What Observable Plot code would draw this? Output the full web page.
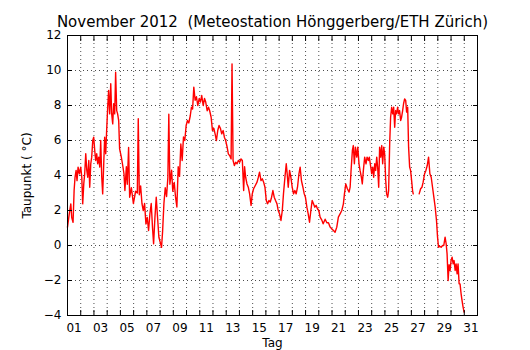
<!DOCTYPE html>
<html>
<head>
<meta charset="utf-8">
<script src="https://cdn.jsdelivr.net/npm/d3@7"></script>
<script src="https://cdn.jsdelivr.net/npm/@observablehq/plot@0.6"></script>
<style>
  html, body { margin: 0; padding: 0; background: #fff; }
  svg { display: block; }
</style>
</head>
<body>
<div id="chart"></div>
<script>
const titleText = "November 2012  (Meteostation Hönggerberg/ETH Zürich)";
const yLabel = "Taupunkt ( °C)";
const xLabel = "Tag";

// time in days (1 = 1 Nov 00:00), dew point in °C
const times = [
  1.00,1.10,1.17,1.25,1.32,1.42,1.50,1.57,1.65,1.72,1.80,1.90,
  2.00,2.08,2.15,2.23,2.30,2.38,2.46,2.53,2.61,2.68,2.76,2.83,2.91,2.98,
  3.06,3.13,3.21,3.28,3.36,3.44,3.51,3.59,3.66,3.74,3.81,3.89,3.96,
  4.04,4.11,4.19,4.27,4.34,4.42,4.49,4.57,4.64,4.72,4.79,4.87,4.94,
  5.02,5.07,5.17,5.27,5.34,5.45,5.52,5.62,5.70,5.83,5.98,
  6.15,6.28,6.35,6.43,6.53,6.63,6.73,6.83,6.93,
  7.03,7.13,7.23,7.33,7.43,7.51,7.61,7.71,7.81,7.91,
  8.04,8.11,8.19,8.29,8.39,8.49,8.59,8.66,8.74,8.87,8.96,
  9.07,9.17,9.27,9.37,9.47,9.57,9.67,9.77,9.87,9.97,
  10.07,10.17,10.28,10.37,10.46,10.55,10.65,10.75,10.85,10.96,
  11.05,11.15,11.26,11.36,11.45,11.56,11.66,11.75,11.86,11.96,
  12.06,12.16,12.26,12.36,12.46,12.56,12.66,12.77,12.86,12.96,
  13.07,13.16,13.26,13.37,13.44,13.52,13.62,13.72,13.82,13.92,
  14.02,14.12,14.22,14.32,14.39,14.47,14.57,14.67,14.77,14.88,14.97,
  15.07,15.20,15.33,15.43,15.52,15.63,15.73,15.83,15.93,
  16.03,16.13,16.23,16.33,16.43,16.53,16.63,16.73,16.84,16.93,
  17.03,17.14,17.24,17.33,17.44,17.54,17.61,17.69,17.79,17.89,17.99,
  18.09,18.19,18.29,18.39,18.50,18.59,18.69,18.80,18.90,18.99,
  19.10,19.20,19.30,19.40,19.50,19.60,19.70,19.80,19.90,
  20.00,20.10,20.23,20.33,20.48,20.61,20.73,20.86,20.98,
  21.11,21.23,21.36,21.48,21.61,21.74,21.86,21.94,
  22.04,22.16,22.29,22.37,22.44,22.54,22.61,22.69,22.77,22.87,22.95,
  23.04,23.12,23.22,23.29,23.37,23.47,23.57,23.65,23.75,23.82,23.93,
  24.00,24.08,24.15,24.23,24.30,24.38,24.45,24.53,24.60,24.68,24.76,24.83,24.91,24.98,
  25.06,25.13,25.21,25.28,25.36,25.43,25.51,25.59,25.66,25.74,25.81,25.89,25.96,
  26.04,26.11,26.19,26.26,26.34,26.41,26.49,26.57,26.64,26.72,26.79,26.87,26.94,
  27.02,27.09,27.14,27.35,
  27.59,27.70,27.80,27.89,
  28.00,28.10,28.20,28.30,28.40,28.50,28.60,28.70,28.80,28.90,28.98,
  29.05,29.15,29.25,29.36,29.45,29.55,29.63,29.70,29.78,29.85,29.93,
  30.00,30.08,30.16,30.23,30.31,30.38,30.46,30.53,30.61,30.68,30.76,30.83,30.91,30.99
];
const dewpoint = [
  1.05,1.62,2.0,2.38,1.6,1.33,3.14,3.9,4.29,3.71,4.48,4.1,
  4.48,3.9,2.38,3.52,4.1,5.24,4.29,3.9,4.86,3.33,4.67,5.05,6.0,6.19,
  5.43,4.86,5.24,4.67,5.05,4.48,6.0,3.9,2.95,4.67,6.19,5.24,6.57,
  7.9,8.86,7.52,9.24,7.52,6.95,8.1,7.52,9.9,7.71,7.52,7.14,5.52,
  5.24,5.05,4.6,4.1,3.14,4.5,3.5,5.6,2.76,3.3,2.4,
  3.1,3.0,7.24,2.9,3.4,2.4,2.0,2.4,1.23,
  1.6,0.86,1.8,2.4,1.0,0.1,1.6,2.76,1.6,0.47,
  0.1,-0.1,0.8,2.4,3.3,2.8,3.9,7.5,3.5,4.3,3.1,
  3.6,2.76,2.2,4.5,3.95,5.8,4.86,6.2,6.0,6.86,
  7.14,7.0,7.4,7.9,7.8,9.05,8.3,8.5,8.0,8.4,
  8.2,8.57,8.0,8.4,8.2,7.7,7.9,7.7,7.33,6.57,
  6.7,6.38,6.0,6.57,6.86,6.7,6.38,6.57,6.19,6.0,
  5.62,5.24,5.14,4.95,10.38,4.86,4.57,4.76,4.67,4.86,
  4.76,4.95,4.86,3.14,4.5,3.9,3.52,3.33,2.95,2.29,2.95,
  3.24,3.43,3.62,3.9,4.19,3.71,3.81,3.62,3.33,
  2.57,2.38,2.57,2.48,2.76,3.14,2.76,2.57,2.38,2.0,
  1.81,1.43,2.0,2.95,3.9,4.67,4.1,3.33,4.29,3.9,3.33,
  2.95,3.14,2.95,3.33,4.1,4.48,3.7,3.33,2.95,2.76,
  2.19,1.81,1.33,2.0,2.57,2.38,2.19,2.29,2.1,
  2.0,1.62,1.45,1.24,1.5,1.3,1.3,1.05,0.95,
  0.86,0.76,1.05,1.62,1.81,2.0,2.38,2.95,
  3.52,3.24,3.05,3.33,4.29,5.43,5.71,4.67,5.62,5.05,5.62,
  4.67,4.29,3.9,3.52,4.29,5.05,4.67,5.05,4.86,5.05,4.48,
  4.1,4.48,3.9,4.67,4.29,5.05,4.48,3.33,5.62,5.05,5.71,4.67,5.62,5.24,
  3.71,2.95,2.76,3.14,5.81,7.33,7.9,7.52,7.9,6.76,7.71,7.52,7.9,
  7.52,7.71,7.14,7.33,7.71,8.1,8.38,8.29,7.62,7.9,5.62,4.48,4.29,
  3.71,3.14,2.95,NaN,
  2.95,3.24,3.33,3.62,
  4.1,4.29,4.57,5.05,4.1,3.9,3.33,2.76,2.19,1.43,0.48,
  -0.1,-0.05,-0.1,0.0,0.0,0.48,0.1,-0.48,-2.0,-1.1,-1.43,
  -0.86,-0.67,-1.05,-0.86,-1.43,-1.05,-1.62,-1.05,-2.19,-2.19,-2.76,-3.14,-3.52,-3.81
];

const tickDays = [1,3,5,7,9,11,13,15,17,19,21,23,25,27,29,31];
const tickLabels = ["01","03","05","07","09","11","13","15","17","19","21","23","25","27","29","31"];
const yTicks = [-4,-2,0,2,4,6,8,10,12];
const dayBounds = d3.range(2, 32);

const rows = times.map((t, i) => ({t, v: dewpoint[i]}));
const font = "DejaVu Sans, sans-serif";

const labelPos = tickDays.map(d => d + 0.5);

const chart = Plot.plot({
  width: 530,
  height: 350,
  marginLeft: 67,
  marginRight: 53,
  marginTop: 35,
  marginBottom: 35,
  style: {fontFamily: font, fontSize: "12px", color: "black", background: "white"},
  x: {domain: [1, 32]},
  y: {domain: [-4, 12]},
  marks: [
    Plot.gridX(dayBounds, {stroke: "black", strokeOpacity: 0.7, strokeDasharray: "1,3"}),
    Plot.gridY(yTicks.slice(1, -1), {stroke: "black", strokeOpacity: 0.7, strokeDasharray: "1,3"}),
    Plot.line(rows, {x: "t", y: "v", stroke: "#ff0000", strokeWidth: 1.4}),
    Plot.frame({stroke: "black", strokeWidth: 1}),
    Plot.axisX(dayBounds, {anchor: "bottom", tickSize: -5, tickFormat: () => "", label: null}),
    Plot.axisX(dayBounds, {anchor: "top", tickSize: -5, tickFormat: () => "", label: null}),
    Plot.axisX(labelPos, {anchor: "bottom", tickSize: 0, tickPadding: 8, fontSize: 12,
      tickFormat: d => tickLabels[tickDays.indexOf(d - 0.5)], label: null}),
    Plot.axisY(yTicks, {anchor: "left", tickSize: -5, tickPadding: 11, fontSize: 12, label: null}),
    Plot.axisY(yTicks, {anchor: "right", tickSize: -5, tickFormat: () => "", label: null}),
    Plot.text([titleText], {frameAnchor: "top", lineAnchor: "middle", textAnchor: "middle", dy: -13, fontSize: 15, fill: "black"}),
    Plot.text([xLabel], {frameAnchor: "bottom", lineAnchor: "middle", textAnchor: "middle", dy: 28, fontSize: 12, fill: "black"}),
    Plot.text([yLabel], {frameAnchor: "left", lineAnchor: "middle", textAnchor: "middle", dx: -40, rotate: -90, fontSize: 12, fill: "black"})
  ]
});
document.getElementById("chart").appendChild(chart);
</script>
</body>
</html>
